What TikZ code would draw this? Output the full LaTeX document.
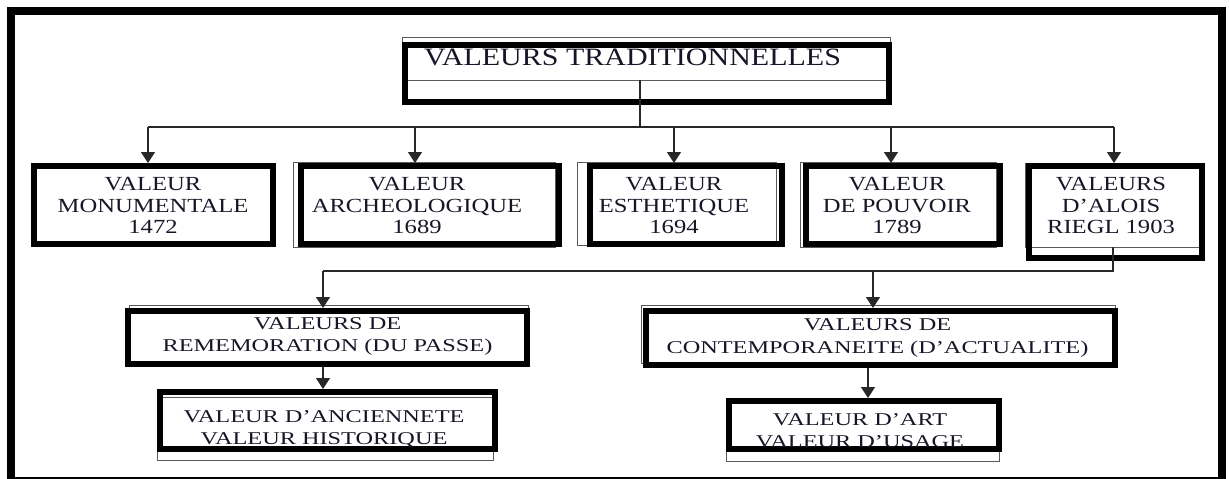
\documentclass[tikz,border=0pt]{standalone}
\usepackage{fontspec}
\setmainfont{Liberation Serif}
\newfontfamily\ftop[FakeStretch=1.2]{Liberation Serif}
\newfontfamily\fmid[FakeStretch=1.23]{Liberation Serif}
\newfontfamily\flow[FakeStretch=1.35]{Liberation Serif}
\usetikzlibrary{arrows.meta}
\definecolor{txt}{RGB}{22,22,40}
\definecolor{thinc}{RGB}{90,90,90}
\definecolor{connc}{RGB}{40,40,40}
\begin{document}
\begin{tikzpicture}[x=1pt,y=-1pt,
  box/.style={draw=black,line width=6pt,inner sep=0pt},
  lbl/.style={text=txt,align=center,inner sep=0pt},
  topfont/.style={font=\ftop\fontsize{25}{30}\selectfont},
  midfont/.style={font=\fmid\fontsize{20}{21.5}\selectfont},
  lowfont/.style={font=\flow\fontsize{18}{22.5}\selectfont},
  thinbox/.style={draw=thinc,line width=1pt},
  conn/.style={draw=connc,line width=1.3pt},
  arr/.style={conn,-{Triangle[width=14pt,length=11pt]}}]
\useasboundingbox (0,0) rectangle (1229,479);
\clip (0,0) rectangle (1229,479);
\draw[line width=8pt] (11,11) rectangle (1221.5,481);

% thin outlines
\draw[thinbox] (402,37) rectangle (890,80);
\draw[thinbox] (293,162) rectangle (555,247);
\draw[thinbox] (577,162) rectangle (776,245);
\draw[thinbox] (800,162) rectangle (996,247);
\draw[thinbox] (1025,163) rectangle (1199,247);
\draw[thinbox] (129,305) rectangle (528,362);
\draw[thinbox] (641,305) rectangle (1115,363);
\draw[thinbox] (157,397) rectangle (493,460);
\draw[thinbox] (726,398) rectangle (999,461);

% thick boxes
\node[box,minimum width=484pt,minimum height=57pt] (T) at (647,73.5) {};
\node[box,minimum width=239pt,minimum height=78pt] (b1) at (153.5,205) {};
\node[box,minimum width=258pt,minimum height=78pt] (b2) at (430,205) {};
\node[box,minimum width=192pt,minimum height=78pt] (b3) at (686,205) {};
\node[box,minimum width=194pt,minimum height=78pt] (b4) at (903,205) {};
\node[box,minimum width=173pt,minimum height=92pt] (b5) at (1115.5,212) {};
\node[box,minimum width=399pt,minimum height=53pt] (r) at (327.5,337.5) {};
\node[box,minimum width=469pt,minimum height=54pt] (c) at (880.5,338) {};
\node[box,minimum width=335pt,minimum height=57pt] (a) at (327.5,420.5) {};
\node[box,minimum width=270pt,minimum height=48pt] (u) at (864,425) {};

% texts
\node[lbl,topfont] (tT) at (632.5,57) {VALEURS TRADITIONNELLES};
\node[lbl,midfont] (t1) at (153,205.5) {VALEUR\\MONUMENTALE\\1472};
\node[lbl,midfont] (t2) at (417,205.5) {VALEUR\\ARCHEOLOGIQUE\\1689};
\node[lbl,midfont] (t3) at (674,205.5) {VALEUR\\ESTHETIQUE\\1694};
\node[lbl,midfont] (t4) at (897,205.5) {VALEUR\\DE POUVOIR\\1789};
\node[lbl,midfont] (t5) at (1111,205.5) {VALEURS\\D’ALOIS\\RIEGL 1903};
\node[lbl,lowfont] (tr) at (327.5,336.5) {VALEURS DE\\REMEMORATION (DU PASSE)};
\node[lbl,lowfont] (tc) at (877.5,338) {VALEURS DE\\CONTEMPORANEITE (D’ACTUALITE)};
\node[lbl,lowfont] (ta) at (324,429) {VALEUR D’ANCIENNETE\\VALEUR HISTORIQUE};
\node[lbl,lowfont] (tu) at (860,430.5) {VALEUR D’ART\\VALEUR D’USAGE};

% connectors, first level
\coordinate (ts) at (640,80);
\coordinate (j0) at (640,127);
\coordinate (j1) at (148,127);
\coordinate (j2) at (415,127);
\coordinate (j3) at (674,127);
\coordinate (j4) at (891,127);
\coordinate (j5) at (1114,127);
\draw[conn] (ts) -- (j0);
\draw[conn] (j1) -- (j5);
\draw[arr] (j1) -- (j1 |- b1.north);
\draw[arr] (j2) -- (j2 |- b2.north);
\draw[arr] (j3) -- (j3 |- b3.north);
\draw[arr] (j4) -- (j4 |- b4.north);
\draw[arr] (j5) -- (j5 |- b5.north);

% connectors, second level
\coordinate (rs) at (1113,247);
\coordinate (k0) at (1113,271);
\coordinate (k1) at (323,271);
\coordinate (k2) at (873,271);
\coordinate (ck) at (868,368);
\draw[conn] (rs) -- (k0) -- (k1);
\draw[arr] (k1) -- (k1 |- r.north);
\draw[arr] (k2) -- (k2 |- c.north);
\draw[arr] (r.south -| k1) -- (k1 |- a.north);
\draw[arr] (ck) -- (ck |- u.north);
\end{tikzpicture}
\end{document}
